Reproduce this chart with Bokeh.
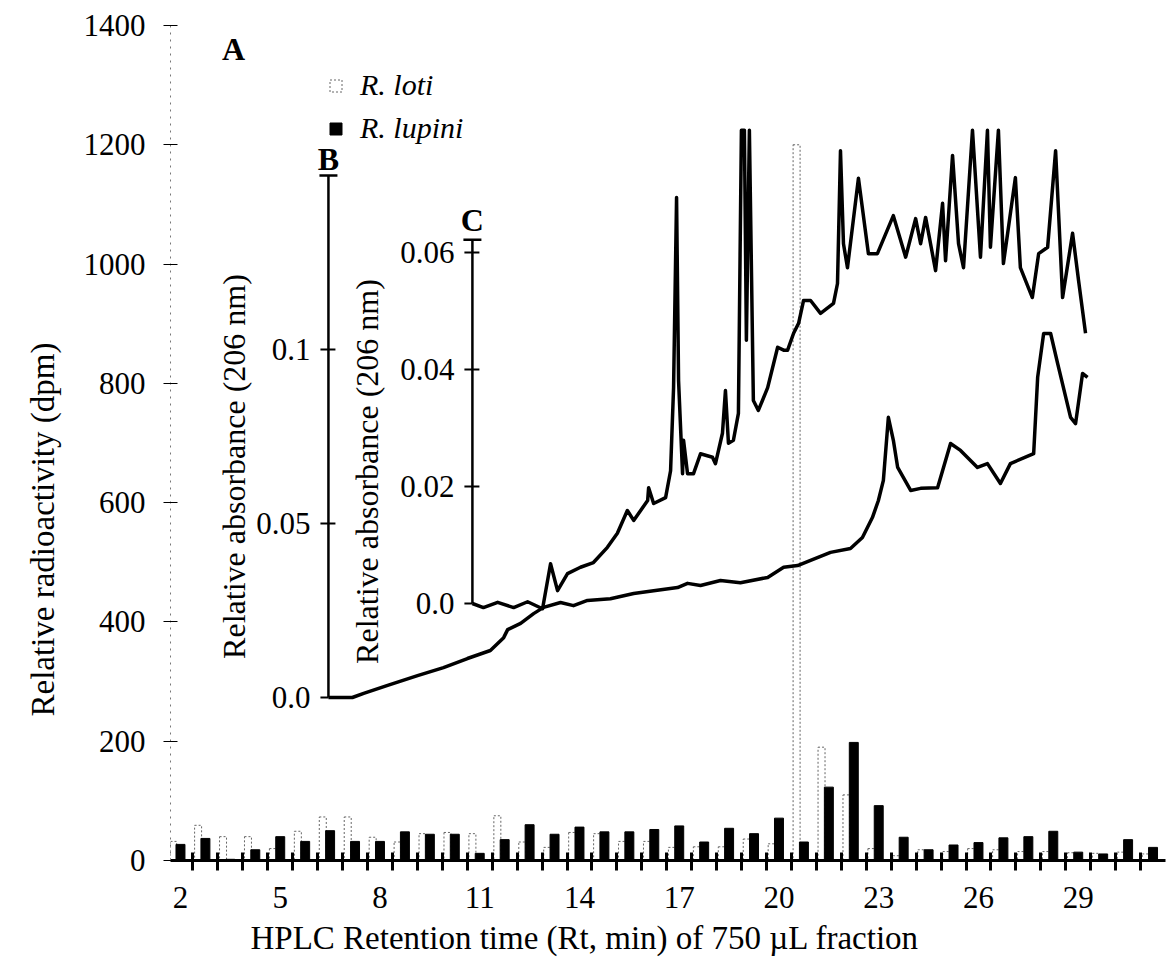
import math
from bokeh.plotting import figure
from bokeh.models import Range1d, FixedTicker, Legend, LegendItem, Label, Title, ColumnDataSource
from bokeh.transform import dodge
from bokeh.core.properties import value
from bokeh.embed import file_html
from bokeh.resources import INLINE

# ---------------- data ----------------
retention_min = [2.0, 2.75, 3.5, 4.25, 5.0, 5.75, 6.5, 7.25, 8.0, 8.75,
                 9.5, 10.25, 11.0, 11.75, 12.5, 13.25, 14.0, 14.75, 15.5, 16.25,
                 17.0, 17.75, 18.5, 19.25, 20.0, 20.75, 21.5, 22.25, 23.0, 23.75,
                 24.5, 25.25, 26.0, 26.75, 27.5, 28.25, 29.0, 29.75, 30.5, 31.25]
r_loti = [32, 59, 40, 40, 20, 49, 73, 73, 39, 31,
          45, 47, 45, 75, 31, 22, 47, 45, 32, 32,
          22, 23, 23, 36, 28, 1200, 190, 110, 20, 8,
          18, 15, 20, 18, 15, 15, 13, 12, 14, 11]
r_lupini = [27, 37, 2, 18, 40, 32, 50, 32, 32, 48,
            44, 44, 12, 35, 60, 44, 56, 48, 48, 52,
            58, 31, 54, 45, 71, 31, 123, 198, 92, 39,
            18, 26, 30, 38, 40, 49, 14, 11, 35, 22]
x_tick_labels = [2, 5, 8, 11, 14, 17, 20, 23, 26, 29]
y_ticks = [0, 200, 400, 600, 800, 1000, 1200, 1400]

# inset B trace (relative absorbance, 206 nm)
b_time = [6.45, 7.17, 7.51, 8.23, 9.13, 9.91, 10.63, 11.32, 11.72, 11.84,
          12.23, 12.62, 12.92, 13.43, 13.82, 14.24, 14.93, 15.63, 16.23, 16.95,
          17.25, 17.64, 18.24, 18.84, 19.66, 20.14, 20.56, 20.95, 21.55, 22.15,
          22.51, 22.81, 22.99, 23.14, 23.29, 23.44, 23.57, 23.96, 24.26, 24.77,
          25.16, 25.46, 25.97, 26.27, 26.66, 26.96, 27.66, 27.78, 27.96, 28.17,
          28.38, 28.77, 28.92, 29.13, 29.28]
b_abs = [0.0, 0.0, 0.0012, 0.0035, 0.0063, 0.0086, 0.0112, 0.0135, 0.0172, 0.0195,
         0.0213, 0.0241, 0.0259, 0.0273, 0.0264, 0.0279, 0.0284, 0.0299, 0.0307, 0.0316,
         0.0328, 0.0322, 0.0336, 0.0330, 0.0345, 0.0374, 0.0379, 0.0394, 0.0417, 0.0428,
         0.0460, 0.0517, 0.0566, 0.0624, 0.0805, 0.0739, 0.0661, 0.0595, 0.0601, 0.0603,
         0.0730, 0.0710, 0.0661, 0.0672, 0.0615, 0.0672, 0.0701, 0.0920, 0.1046, 0.1046,
         0.0960, 0.0805, 0.0787, 0.0931, 0.0920]
b_ticks = [0.0, 0.05, 0.1]
b_tick_labels = ["0.0", "0.05", "0.1"]
b_axis_time = 6.45
b_axis_top = 0.15

# inset C trace
c_time = [10.78, 11.11, 11.54, 12.02, 12.44, 12.89, 13.13, 13.34, 13.64, 14.03,
          14.42, 14.84, 15.14, 15.44, 15.63, 16.05, 16.08, 16.23, 16.59, 16.74,
          16.83, 16.92, 16.98, 17.10, 17.13, 17.25, 17.43, 17.64, 18.00, 18.09,
          18.30, 18.39, 18.48, 18.63, 18.78, 18.87, 18.96, 19.02, 19.11, 19.23,
          19.38, 19.66, 19.96, 20.14, 20.26, 20.44, 20.59, 20.74, 20.95, 21.25,
          21.64, 21.76, 21.85, 21.94, 22.06, 22.39, 22.69, 22.96, 23.44, 23.81,
          24.11, 24.26, 24.41, 24.71, 24.92, 25.01, 25.22, 25.40, 25.55, 25.82,
          26.06, 26.27, 26.36, 26.60, 26.75, 27.11, 27.26, 27.62, 27.81, 28.08,
          28.32, 28.53, 28.83, 29.01, 29.22]
c_abs = [0.0, -0.0007, 0.0002, -0.0007, 0.0003, -0.0009, 0.0068, 0.0022, 0.0051, 0.0062,
         0.0070, 0.0096, 0.0120, 0.0159, 0.0142, 0.0176, 0.0198, 0.0171, 0.0181, 0.0227,
         0.0369, 0.0694, 0.0381, 0.0222, 0.0279, 0.0222, 0.0222, 0.0256, 0.0250, 0.0239,
         0.0291, 0.0364, 0.0274, 0.0279, 0.0325, 0.0809, 0.0809, 0.0450, 0.0809, 0.0347,
         0.0330, 0.0369, 0.0438, 0.0433, 0.0433, 0.0462, 0.0479, 0.0518, 0.0518, 0.0496,
         0.0513, 0.0547, 0.0774, 0.0615, 0.0574, 0.0727, 0.0598, 0.0598, 0.0663, 0.0592,
         0.0658, 0.0615, 0.0660, 0.0569, 0.0684, 0.0586, 0.0766, 0.0615, 0.0574, 0.0809,
         0.0592, 0.0809, 0.0609, 0.0809, 0.0581, 0.0728, 0.0574, 0.0523, 0.0598, 0.0609,
         0.0774, 0.0523, 0.0633, 0.0552, 0.0462]
c_ticks = [0.0, 0.02, 0.04, 0.06]
c_tick_labels = ["0.0", "0.02", "0.04", "0.06"]
c_axis_time = 10.78
c_axis_top = 0.0622

# ---------------- layout constants ----------------
FONT = "Liberation Serif"
PX_PER_MIN = 33.25
X0 = 1.7
FRAME_W = 995
FRAME_H = 835
B_ZERO_PX, B_PX_PER_UNIT = 163, 3480.0
C_ZERO_PX, C_PX_PER_UNIT = 257, 5850.0

p = figure(frame_width=FRAME_W, frame_height=FRAME_H,
           x_range=Range1d(X0, X0 + FRAME_W / PX_PER_MIN),
           y_range=Range1d(0, 1400),
           output_backend="svg", toolbar_location=None,
           min_border_left=170, min_border_right=2,
           min_border_top=25, min_border_bottom=102)
p.extra_y_ranges = {
    "B": Range1d(-B_ZERO_PX / B_PX_PER_UNIT, (FRAME_H - B_ZERO_PX) / B_PX_PER_UNIT),
    "C": Range1d(-C_ZERO_PX / C_PX_PER_UNIT, (FRAME_H - C_ZERO_PX) / C_PX_PER_UNIT),
}
p.xgrid.visible = False
p.ygrid.visible = False
p.outline_line_color = None
p.background_fill_color = "white"
p.border_fill_color = "white"

# ---------------- bars ----------------
cds = ColumnDataSource(dict(t=retention_min, loti=r_loti, lupini=r_lupini))
w_bar = p.vbar(x=dodge("t", -0.22, range=p.x_range), top="loti", width=0.21, bottom=0,
               source=cds, fill_color="white", line_color="#666666",
               line_dash="2 2", line_width=1)
k_bar = p.vbar(x=dodge("t", 0.0, range=p.x_range), top="lupini", width=0.27, bottom=0,
               source=cds, fill_color="black", line_color="black", line_width=1)

# ---------------- axes ----------------
xa = p.xaxis[0]
bounds = [t - 0.375 for t in retention_min] + [retention_min[-1] + 0.375]
xa.ticker = FixedTicker(ticks=x_tick_labels, minor_ticks=bounds)
xa.major_tick_line_color = None
xa.major_tick_in = 0
xa.major_tick_out = 10
xa.minor_tick_in = 8
xa.minor_tick_out = 10
xa.minor_tick_line_width = 3
xa.minor_tick_line_color = "black"
xa.axis_line_width = 3
xa.axis_line_color = "black"
xa.major_label_standoff = 16
xa.major_label_text_font = FONT
xa.major_label_text_font_size = "31px"
xa.major_label_text_color = "black"

ya = p.yaxis[0]
ya.ticker = FixedTicker(ticks=y_ticks)
ya.minor_tick_line_color = None
ya.major_tick_in = 7
ya.major_tick_out = 7
ya.major_tick_line_color = "black"
ya.major_tick_line_width = 1
ya.axis_line_color = "#777777"
ya.axis_line_dash = "2 5"
ya.axis_line_width = 1
ya.major_label_standoff = 18
ya.major_label_text_font = FONT
ya.major_label_text_font_size = "31px"
ya.major_label_text_color = "black"

# axis titles (side-panel titles, shifted along the axis like the original)
p.add_layout(Title(text="Relative radioactivity (dpm)", align="left", offset=144,
                   standoff=40, text_font=FONT, text_font_size="33px",
                   text_font_style="normal", text_color="black"), "left")
p.add_layout(Title(text="HPLC Retention time (Rt, min) of 750 \u00b5L fraction",
                   align="left", offset=80, standoff=14, text_font=FONT,
                   text_font_size="33px", text_font_style="normal",
                   text_color="black"), "below")

# ---------------- inset axes B and C ----------------
tl = 8 / PX_PER_MIN
tr = 7 / PX_PER_MIN

def inset_axis(ax_t, ticks, labels, top, rng, letter, letter_off):
    p.segment(x0=[ax_t], y0=[0], x1=[ax_t], y1=[top], y_range_name=rng,
              line_color="black", line_width=2.5)
    x0s = [ax_t - tl for _ in ticks]
    x1s = [ax_t if v == 0 else ax_t + tr for v in ticks]
    p.segment(x0=x0s, y0=ticks, x1=x1s, y1=ticks, y_range_name=rng,
              line_color="black", line_width=2)
    p.segment(x0=[ax_t - 9 / PX_PER_MIN], y0=[top], x1=[ax_t + 9 / PX_PER_MIN], y1=[top],
              y_range_name=rng, line_color="black", line_width=2.5)
    p.text(x=[ax_t] * len(ticks), y=ticks, text=labels, y_range_name=rng,
           x_offset=-18, text_align="right", text_baseline="middle",
           text_font=value(FONT), text_font_size="31px", text_color="black")
    p.text(x=[ax_t], y=[top], text=[letter], y_range_name=rng,
           y_offset=letter_off, text_align="center", text_baseline="middle",
           text_font=value(FONT), text_font_size="32px", text_font_style="bold",
           text_color="black")

inset_axis(b_axis_time, b_ticks, b_tick_labels, b_axis_top, "B", "B", -17)
inset_axis(c_axis_time, c_ticks, c_tick_labels, c_axis_top, "C", "C", -20)

# traces
p.line(b_time, b_abs, y_range_name="B", line_color="black", line_width=3.5,
       line_join="round")
p.line(c_time, c_abs, y_range_name="C", line_color="black", line_width=3.5,
       line_join="round")

# ---------------- text labels inside the frame ----------------
def lab(txt, x, y, angle=0.0, size="32px", style="normal"):
    p.add_layout(Label(x=x, y=y, x_units="screen", y_units="screen", text=txt,
                       angle=angle, text_align="center", text_baseline="middle",
                       text_font=FONT, text_font_size=size, text_font_style=style,
                       text_color="black"))

lab("Relative absorbance (206 nm)", 63, 394, angle=math.pi / 2)
lab("Relative absorbance (206 nm)", 196, 389, angle=math.pi / 2)
lab("A", 63, 812, size="32px", style="bold")

# ---------------- legend ----------------
legend = Legend(items=[LegendItem(label="R. loti", renderers=[w_bar]),
                       LegendItem(label="R. lupini", renderers=[k_bar])],
                location=(158, 715), orientation="vertical",
                glyph_width=15, glyph_height=15, label_height=30, spacing=9,
                label_standoff=17, padding=0, margin=0,
                border_line_color=None, background_fill_alpha=0,
                label_text_font=FONT, label_text_font_size="30px",
                label_text_font_style="italic", label_text_color="black")
p.add_layout(legend, "center")

open("out.html", "w").write(file_html(p, INLINE))
